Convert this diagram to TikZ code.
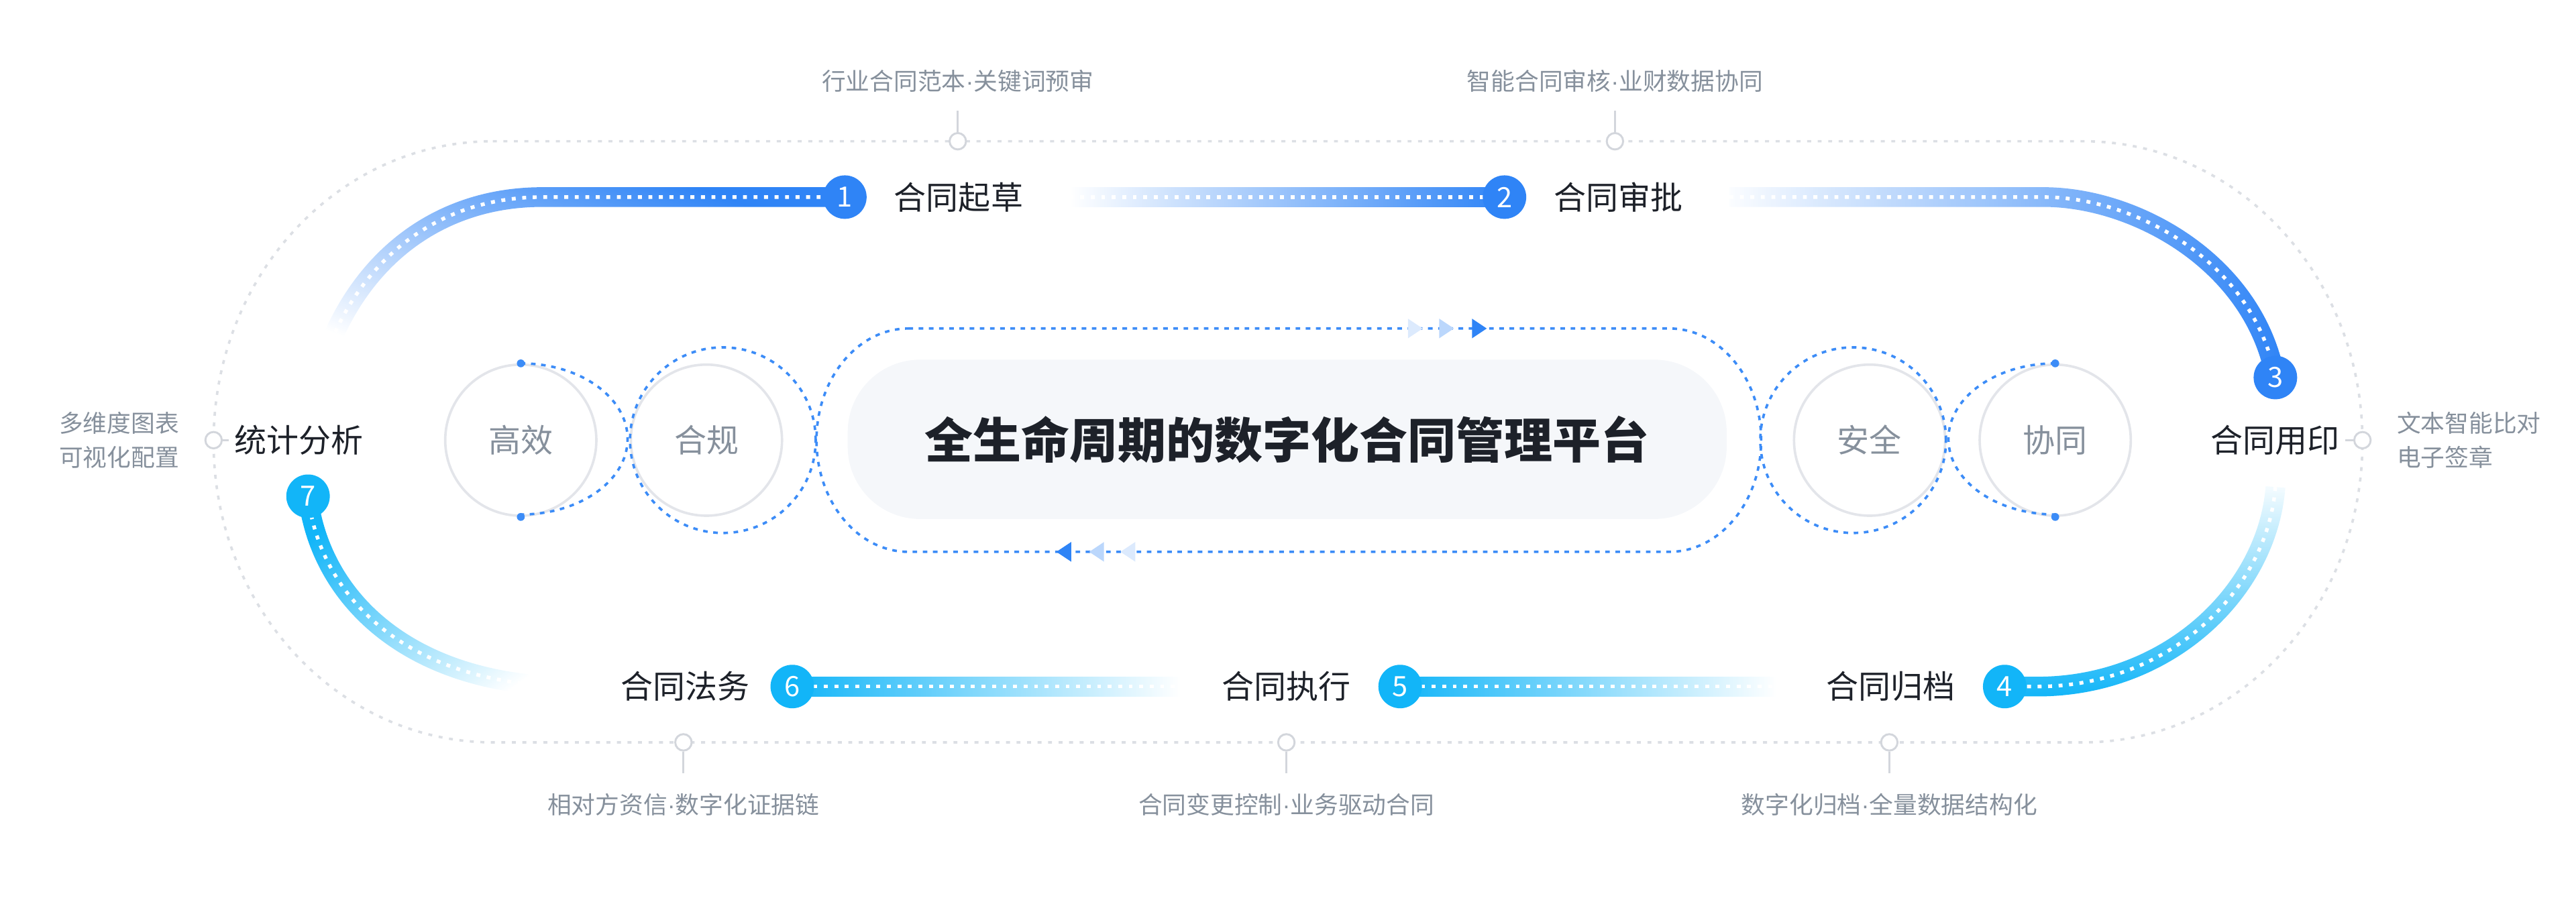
\documentclass[tikz,border=0pt]{standalone}
\usepackage{fontspec}
\setmainfont{Noto Sans CJK SC}
\newfontfamily\dotfont{Liberation Sans}
\usetikzlibrary{positioning,calc,fadings}

\definecolor{stepblue}{HTML}{2F84F6}
\definecolor{stepcyan}{HTML}{12B5F8}
\definecolor{dotblue}{HTML}{3C8CF7}
\definecolor{ink}{HTML}{1D2129}
\definecolor{note}{HTML}{86909C}
\definecolor{ring}{HTML}{E3E5EA}
\definecolor{rim}{HTML}{D3D6DC}
\definecolor{frame}{HTML}{DCDFE4}
\definecolor{panel}{HTML}{F5F7FA}

\newcommand{\sep}{{\dotfont ·}}

\pgfdeclarelayer{back}
\pgfsetlayers{back,main}

\tikzfading[name=fadein, left color=transparent!100, right color=transparent!0]

\tikzset{
  steplabel/.style={inner sep=0pt, text=ink, font=\fontsize{9.8}{10}\selectfont},
  stepnum/.style={circle, fill=#1, text=white, minimum size=13.25pt, inner sep=0pt,
    font=\fontsize{8.5}{8.5}\selectfont},
  track/.style={draw=#1, line width=6pt},
  centerdots/.style={draw=white, line width=1.1pt, dash pattern=on 1.2pt off 2pt},
  value/.style={circle, draw=ring, line width=0.75pt, minimum size=46pt, inner sep=0pt,
    text=note, font=\fontsize{9.8}{10}\selectfont},
  bluedots/.style={draw=dotblue, line width=0.75pt, dash pattern=on 1.4pt off 1.7pt},
  pin/.style={circle, draw=rim, fill=white, line width=0.6pt, minimum size=5pt, inner sep=0pt},
  pinline/.style={draw=rim, line width=0.6pt},
  notetext/.style={inner sep=0pt, text=note, align=left, font=\fontsize{7.3}{10.5}\selectfont},
  platform/.style={fill=panel, rounded corners=22pt, minimum width=267.5pt, minimum height=48.5pt,
    text=ink, font=\bfseries\fontsize{14.7}{15}\selectfont},
}

\begin{document}
\begin{tikzpicture}[x=0.5pt, y=-0.5pt]
\useasboundingbox (0,0) rectangle (1568,551.25);

% outer frame
\draw[frame, line width=0.75pt, dash pattern=on 1.2pt off 2pt]
  (300,86) -- (1268,86) arc[start angle=90, end angle=-90, x radius=85pt, y radius=91.5pt]
  -- (300,452) arc[start angle=270, end angle=90, x radius=85pt, y radius=91.5pt] -- cycle;

% pins on the frame
\node[pin] (pt1) at (583,86) {};
\node[pin] (pt2) at (983,86) {};
\node[pin] (pb1) at (416,452) {};
\node[pin] (pb2) at (783,452) {};
\node[pin] (pb3) at (1150,452) {};
\node[pin] (pl) at (130,268) {};
\node[pin] (pr) at (1438,268) {};

\node[notetext, above=12pt of pt1] (nt1) {行业合同范本\sep 关键词预审};
\node[notetext, above=12pt of pt2] (nt2) {智能合同审核\sep 业财数据协同};
\node[notetext, below=12.5pt of pb1] (nb1) {相对方资信\sep 数字化证据链};
\node[notetext, below=12.5pt of pb2] (nb2) {合同变更控制\sep 业务驱动合同};
\node[notetext, below=12.5pt of pb3] (nb3) {数字化归档\sep 全量数据结构化};
\node[notetext, left=7.5pt of pl] (nl) {多维度图表\\可视化配置};
\node[notetext, right=7.5pt of pr] (nr) {文本智能比对\\电子签章};

\draw[pinline, shorten >=5.5pt] (pt1) -- (nt1);
\draw[pinline, shorten >=5.5pt] (pt2) -- (nt2);
\draw[pinline, shorten >=6pt] (pb1) -- (nb1);
\draw[pinline, shorten >=6pt] (pb2) -- (nb2);
\draw[pinline, shorten >=6pt] (pb3) -- (nb3);

% platform in the middle
\node[platform] (core) at (783.5,267.5) {全生命周期的数字化合同管理平台};
\draw[bluedots] (553,200) -- (1016,200)
  arc[start angle=90, end angle=-90, x radius=28pt, y radius=34pt] -- (553,336)
  arc[start angle=270, end angle=90, x radius=28pt, y radius=34pt] -- cycle;
\foreach \x/\c in {861/dotblue!18, 880/dotblue!35, 900/stepblue}
  \fill[\c] (\x-4,194) -- (\x+5,200) -- (\x-4,206) -- cycle;
\foreach \x/\c in {648/stepblue, 668/dotblue!35, 687/dotblue!18}
  \fill[\c] (\x+4,330) -- (\x-5,336) -- (\x+4,342) -- cycle;

% values
\node[value] (eff) at (317,268) {高效};
\node[value] (comp) at (430,268) {合规};
\node[value] (safe) at (1138,268) {安全};
\node[value] (sync) at (1251,268) {协同};
\draw[bluedots] (eff.north) arc[start angle=90, end angle=-90, x radius=32.5pt, y radius=23pt];
\draw[bluedots] ($(comp.center)+(10,0)$) circle[radius=28.25pt];
\draw[bluedots] ($(safe.center)+(-10,0)$) circle[radius=28.25pt];
\draw[bluedots] (sync.north) arc[start angle=90, end angle=270, x radius=32.5pt, y radius=23pt];
\fill[dotblue] (eff.north) circle[radius=1.2pt] (eff.south) circle[radius=1.2pt];
\fill[dotblue] (sync.north) circle[radius=1.2pt] (sync.south) circle[radius=1.2pt];

% steps
\node[steplabel] (l1) at (583.5,120) {合同起草};
\node[steplabel] (l2) at (985,120) {合同审批};
\node[steplabel] (l3) at (1385,268) {合同用印};
\node[steplabel] (l4) at (1151,418) {合同归档};
\node[steplabel] (l5) at (783,418) {合同执行};
\node[steplabel] (l6) at (417,418) {合同法务};
\node[steplabel] (l7) at (182,268) {统计分析};
\node[stepnum=stepblue, left=8pt of l1] (n1) {1};
\node[stepnum=stepblue, left=8pt of l2] (n2) {2};
\node[stepnum=stepblue, above=7.5pt of l3] (n3) {3};
\node[stepnum=stepcyan, right=8pt of l4] (n4) {4};
\node[stepnum=stepcyan, right=8pt of l5] (n5) {5};
\node[stepnum=stepcyan, right=6pt of l6] (n6) {6};
\node[stepnum=stepcyan, below=5.5pt of l7, xshift=2.75pt] (n7) {7};

\draw[pinline, shorten >=1.5pt] (pl) -- (l7);
\draw[pinline, shorten >=1.5pt] (pr) -- (l3);

% the lifecycle track
\begin{pgfonlayer}{back}
\coordinate (s1) at (195,226);
\draw[track=stepblue, path fading=fadein, fading angle=45]
  (s1) .. controls (215,160) and (265,120) .. (330,120) -- (n1.center);
\draw[centerdots] (s1) .. controls (215,160) and (265,120) .. (330,120) -- (n1.center);

\shade[left color=white, right color=stepblue] ($(l1.east)+(28,-6)$) rectangle ($(n2.center)+(0,6)$);
\draw[centerdots] ($(l1.east)+(28,0)$) -- (n2.center);

\draw[track=stepblue, path fading=fadein]
  ($(l2.east)+(28,0)$) -- (1244,120) .. controls (1300,120) and (1372,160) .. (n3.center);
\draw[centerdots] ($(l2.east)+(28,0)$) -- (1244,120) .. controls (1300,120) and (1372,160) .. (n3.center);

\coordinate (s4) at ($(l3.south)+(0,19)$);
\draw[track=stepcyan, path fading=fadein, fading angle=-90]
  (s4) .. controls (1380,360) and (1320,418) .. (1240,418) -- (n4.center);
\draw[centerdots] (s4) .. controls (1380,360) and (1320,418) .. (1240,418) -- (n4.center);

\shade[left color=stepcyan, right color=white] ($(n5.center)+(0,-6)$) rectangle ($(l4.west)+(-30,6)$);
\draw[centerdots] (n5.center) -- ($(l4.west)+(-30,0)$);

\shade[left color=stepcyan, right color=white] ($(n6.center)+(0,-6)$) rectangle ($(l5.west)+(-25,6)$);
\draw[centerdots] (n6.center) -- ($(l5.west)+(-25,0)$);

\coordinate (s7) at ($(l6.west)+(-28,0)$);
\draw[track=stepcyan, path fading=fadein, fading angle=135]
  (s7) .. controls (250,418) and (195,365) .. (n7.center);
\draw[centerdots] (s7) .. controls (250,418) and (195,365) .. (n7.center);
\end{pgfonlayer}

\end{tikzpicture}
\end{document}
